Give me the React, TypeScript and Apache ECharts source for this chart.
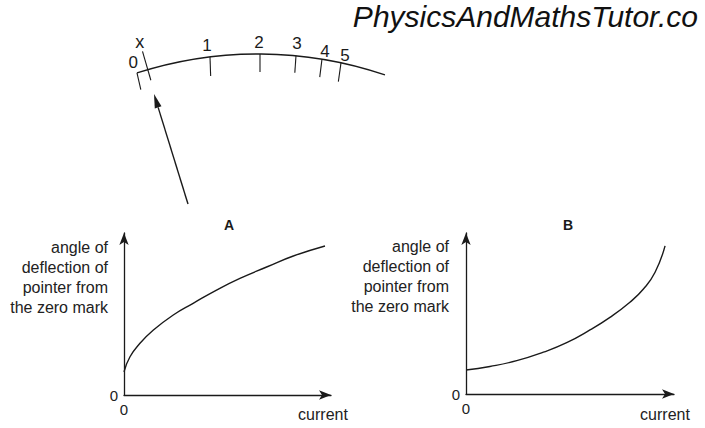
import React, { useEffect, useRef } from "react";
import * as echarts from "echarts";

// Curve A: angle of deflection vs current (concave)
const currentA = [0, 0.29, 0.77, 1.42, 2.38, 3.34, 4.47, 5.6, 6.89, 8.18, 9.71];
const angleA = [1.43, 2.36, 3.19, 4.01, 4.94, 5.66, 6.48, 7.2, 7.9, 8.58, 9.2];
// Curve B: angle of deflection vs current (convex)
const currentB = [0, 1.15, 2.44, 3.72, 4.84, 5.96, 6.92, 7.88, 8.53, 9.09, 9.57];
const angleB = [1.49, 1.71, 2.07, 2.6, 3.19, 3.98, 4.76, 5.7, 6.52, 7.56, 9.2];

// Meter scale labels
const meterLabels = ["x", "0", "1", "2", "3", "4", "5"];
const yAxisName = ["angle of", "deflection of", "pointer from", "the zero mark"];
const xAxisName = "current";
const chartTitles = ["A", "B"];
const watermark = "PhysicsAndMathsTutor.co";

// Diagram geometry (degrees from vertical on the meter arc)
const meterLabelGeom = [
  { pos: -16.2, dr: 29 },
  { pos: -17.9, dr: 11 },
  { pos: -7.2, dr: 12 },
  { pos: 0.14, dr: 12 },
  { pos: 5.5, dr: 12 },
  { pos: 9.57, dr: 8 },
  { pos: 12.47, dr: 8 },
];
const meterTickGeom = [
  { pos: -17.84, tilt: 13, len: 17 },
  { pos: -6.98, tilt: 2, len: 19 },
  { pos: 0.29, tilt: 0, len: 18 },
  { pos: 5.52, tilt: -4, len: 17 },
  { pos: 9.32, tilt: -7, len: 18 },
  { pos: 12.13, tilt: -8, len: 19 },
];

const FONT = "Liberation Sans, Arial, sans-serif";
const INK = "#1a1a1a";

export default function App() {
  const ref = useRef<HTMLDivElement>(null);

  useEffect(() => {
    if (!ref.current) return;
    const chart = echarts.init(ref.current, undefined, { renderer: "svg" });

    const CX = 258, CY = 449, R = 395;
    const rad = (d: number) => (d * Math.PI) / 180;
    const pt = (deg: number, r: number) => [CX + r * Math.sin(rad(deg)), CY - r * Math.cos(rad(deg))];

    const graphics: any[] = [];
    // watermark
    graphics.push({
      type: "text", right: 7, top: 1,
      style: { text: watermark, font: `italic 30px ${FONT}`, fill: "#111" },
    });
    // meter arc
    graphics.push({
      type: "arc",
      shape: { cx: CX, cy: CY, r: R, startAngle: rad(-17.84 - 90), endAngle: rad(18.75 - 90), clockwise: true },
      style: { stroke: INK, lineWidth: 1.3, fill: "none" },
    });
    // ticks
    meterTickGeom.forEach((t) => {
      const [x1, y1] = pt(t.pos, R);
      graphics.push({
        type: "line",
        shape: { x1, y1, x2: x1 + t.len * Math.sin(rad(t.tilt)), y2: y1 + t.len * Math.cos(rad(t.tilt)) },
        style: { stroke: INK, lineWidth: 1.1 },
      });
    });
    // x mark line
    {
      const [x1, y1] = pt(-16.2, R + 19);
      const [x2, y2] = pt(-16.2, R - 11);
      graphics.push({ type: "line", shape: { x1, y1, x2, y2 }, style: { stroke: INK, lineWidth: 1.1 } });
    }
    // meter labels
    meterLabels.forEach((lab, i) => {
      const g = meterLabelGeom[i];
      const [x, y] = pt(g.pos, R + g.dr);
      graphics.push({
        type: "text", x, y,
        style: { text: lab, font: `${lab === "x" ? 18 : 17}px ${FONT}`, fill: INK, align: "center", verticalAlign: "middle" },
      });
    });
    // pointer arrow
    {
      const tip = [154, 94], tail = [188, 204];
      const dx = tail[0] - tip[0], dy = tail[1] - tip[1];
      const L = Math.hypot(dx, dy);
      const ux = dx / L, uy = dy / L;
      const bx = tip[0] + 14 * ux, by = tip[1] + 14 * uy;
      const px = uy, py = -ux;
      graphics.push({ type: "line", shape: { x1: bx, y1: by, x2: tail[0], y2: tail[1] }, style: { stroke: INK, lineWidth: 1.4 } });
      graphics.push({
        type: "polygon",
        shape: { points: [tip, [bx + 3.5 * px, by + 3.5 * py], [bx - 3.5 * px, by - 3.5 * py]] },
        style: { fill: INK },
      });
    }
    // titles and axis names
    [[229, 225], [568, 225]].forEach(([x, y], i) => {
      graphics.push({
        type: "text", x, y,
        style: { text: chartTitles[i], font: `bold 14px ${FONT}`, fill: INK, align: "center", verticalAlign: "middle" },
      });
    });
    [[108, 277], [449, 276]].forEach(([x, y]) => {
      graphics.push({
        type: "text", x, y,
        style: { text: yAxisName.join("\n"), font: `16px ${FONT}`, lineHeight: 20, fill: "#222", align: "right", verticalAlign: "middle" },
      });
    });
    [[323, 414], [665, 414]].forEach(([x, y]) => {
      graphics.push({
        type: "text", x, y,
        style: { text: xAxisName, font: `16px ${FONT}`, fill: "#222", align: "center", verticalAlign: "middle" },
      });
    });

    const axisLine = {
      show: true,
      symbol: ["none", "arrow"],
      symbolSize: [7, 12],
      lineStyle: { color: INK, width: 1.3 },
    };
    const label = {
      formatter: (v: number) => (v === 0 ? "0" : ""),
      color: "#222",
      fontSize: 15,
      fontFamily: FONT,
    };
    const mkX = (gi: number) => ({
      type: "value", gridIndex: gi, min: 0, max: 10, interval: 10,
      axisLine, axisTick: { show: false }, splitLine: { show: false },
      axisLabel: { ...label, margin: 7 },
    });
    const mkY = (gi: number) => ({
      type: "value", gridIndex: gi, min: 0, max: 10, interval: 10,
      axisLine, axisTick: { show: false }, splitLine: { show: false },
      axisLabel: { ...label, margin: 6 },
    });
    const lineSeries = (gi: number, xs: number[], ys: number[]) => ({
      type: "line", xAxisIndex: gi, yAxisIndex: gi,
      data: xs.map((x, i) => [x, ys[i]]),
      smooth: true, showSymbol: false, symbol: "none",
      lineStyle: { color: INK, width: 1.4 },
    });

    chart.setOption({
      animation: false,
      backgroundColor: "#ffffff",
      grid: [
        { left: 124, top: 233, width: 207, height: 162 },
        { left: 466, top: 233, width: 208, height: 161 },
      ],
      xAxis: [mkX(0), mkX(1)],
      yAxis: [mkY(0), mkY(1)],
      series: [lineSeries(0, currentA, angleA), lineSeries(1, currentB, angleB)],
      graphic: graphics,
    });

    return () => chart.dispose();
  }, []);

  return <div ref={ref} style={{ position: "absolute", left: 0, top: 0, width: 705, height: 428, background: "#fff" }} />;
}
